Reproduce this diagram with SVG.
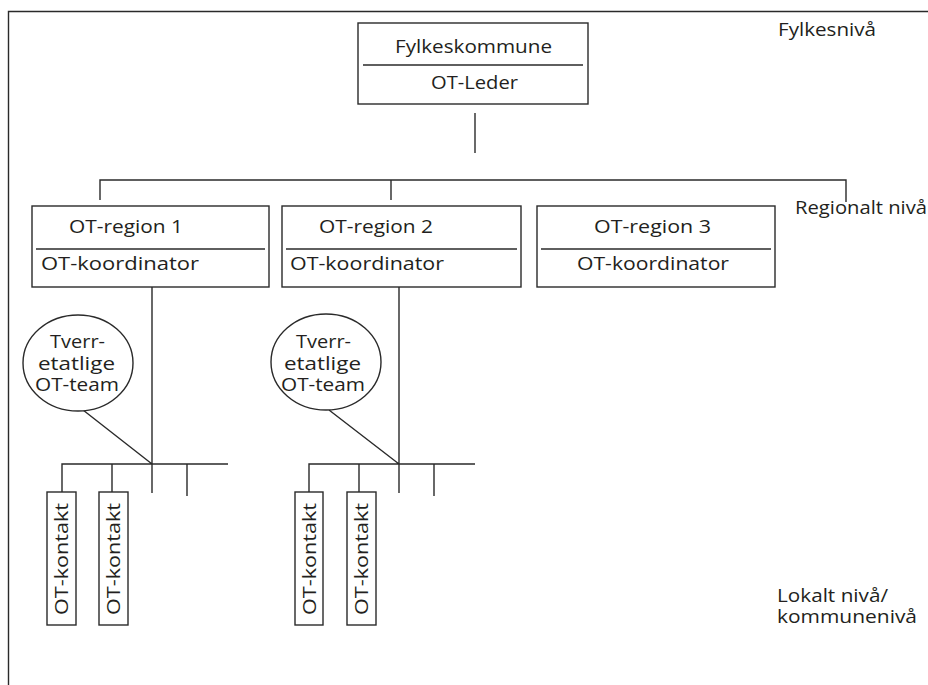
<svg xmlns="http://www.w3.org/2000/svg" width="928" height="685" viewBox="0 0 928 685">
<style>
.ln{stroke:#2a2a2a;stroke-width:1.4;fill:none}
.bx{stroke:#2a2a2a;stroke-width:1.4;fill:#fff}
.t{font-family:"Open Sans","Noto Sans",sans-serif;font-size:18px;fill:#231f20}
.m{text-anchor:middle}
</style>
<rect width="928" height="685" fill="#fff"/>
<path class="ln" d="M8.5 685 V11.5 H928"/>
<g id="connectors">
<path class="ln" d="M475 113 V153"/>
<path class="ln" d="M100 200 V180 H846 V202 M391 180 V200"/>
<path class="ln" d="M152 287 V493 M62 493 V464 H228 M112 464 V493 M187 464 V496 M83 410 L152 464"/>
<path class="ln" d="M399 287 V493 M309 493 V464 H475 M359 464 V493 M434 464 V496 M329 410 L399 464"/>
</g>
<g id="fylkeskommune">
<rect class="bx" x="358" y="23" width="230" height="81"/>
<line class="ln" x1="363" y1="65" x2="583" y2="65"/>
<text class="t" x="395" y="53" textLength="157" lengthAdjust="spacingAndGlyphs">Fylkeskommune</text>
<text class="t" x="431" y="89" textLength="87" lengthAdjust="spacingAndGlyphs">OT-Leder</text>
</g>
<g id="region1">
<rect class="bx" x="32" y="206" width="237" height="81"/>
<line class="ln" x1="36" y1="249" x2="265" y2="249"/>
<text class="t" x="69" y="233" textLength="114" lengthAdjust="spacingAndGlyphs">OT-region 1</text>
<text class="t" x="41" y="270" textLength="158" lengthAdjust="spacingAndGlyphs">OT-koordinator</text>
</g>
<g id="region2">
<rect class="bx" x="282" y="206" width="239" height="81"/>
<line class="ln" x1="286" y1="249" x2="517" y2="249"/>
<text class="t" x="319" y="233" textLength="114" lengthAdjust="spacingAndGlyphs">OT-region 2</text>
<text class="t" x="290" y="270" textLength="154" lengthAdjust="spacingAndGlyphs">OT-koordinator</text>
</g>
<g id="region3">
<rect class="bx" x="537" y="206" width="238" height="81"/>
<line class="ln" x1="541" y1="249" x2="771" y2="249"/>
<text class="t" x="594" y="233" textLength="117" lengthAdjust="spacingAndGlyphs">OT-region 3</text>
<text class="t" x="577" y="270" textLength="152" lengthAdjust="spacingAndGlyphs">OT-koordinator</text>
</g>
<g id="team1">
<ellipse class="bx" cx="78" cy="363" rx="55" ry="48"/>
<text class="t" x="50" y="348" textLength="55" lengthAdjust="spacingAndGlyphs">Tverr-</text>
<text class="t" x="38" y="370" textLength="77" lengthAdjust="spacingAndGlyphs">etatlige</text>
<text class="t" x="35" y="391" textLength="84" lengthAdjust="spacingAndGlyphs">OT-team</text>
</g>
<g id="team2">
<ellipse class="bx" cx="326" cy="362" rx="55" ry="48"/>
<text class="t" x="296" y="348" textLength="55" lengthAdjust="spacingAndGlyphs">Tverr-</text>
<text class="t" x="284" y="370" textLength="77" lengthAdjust="spacingAndGlyphs">etatlige</text>
<text class="t" x="281" y="391" textLength="84" lengthAdjust="spacingAndGlyphs">OT-team</text>
</g>
<g id="kontakt1a">
<rect class="bx" x="47" y="492" width="29" height="133"/>
<text class="t" transform="translate(68 615) rotate(-90)" textLength="112" lengthAdjust="spacingAndGlyphs">OT-kontakt</text>
</g>
<g id="kontakt1b">
<rect class="bx" x="99" y="492" width="29" height="133"/>
<text class="t" transform="translate(120 615) rotate(-90)" textLength="112" lengthAdjust="spacingAndGlyphs">OT-kontakt</text>
</g>
<g id="kontakt2a">
<rect class="bx" x="295" y="492" width="28" height="133"/>
<text class="t" transform="translate(315.5 615) rotate(-90)" textLength="112" lengthAdjust="spacingAndGlyphs">OT-kontakt</text>
</g>
<g id="kontakt2b">
<rect class="bx" x="347" y="492" width="29" height="133"/>
<text class="t" transform="translate(368 615) rotate(-90)" textLength="112" lengthAdjust="spacingAndGlyphs">OT-kontakt</text>
</g>
<g id="levels">
<text class="t" x="778" y="36" textLength="98" lengthAdjust="spacingAndGlyphs">Fylkesnivå</text>
<text class="t" x="795" y="214" textLength="132" lengthAdjust="spacingAndGlyphs">Regionalt nivå</text>
<text class="t" x="777" y="602" textLength="111" lengthAdjust="spacingAndGlyphs">Lokalt nivå/</text>
<text class="t" x="777" y="623" textLength="140" lengthAdjust="spacingAndGlyphs">kommunenivå</text>
</g>
</svg>
